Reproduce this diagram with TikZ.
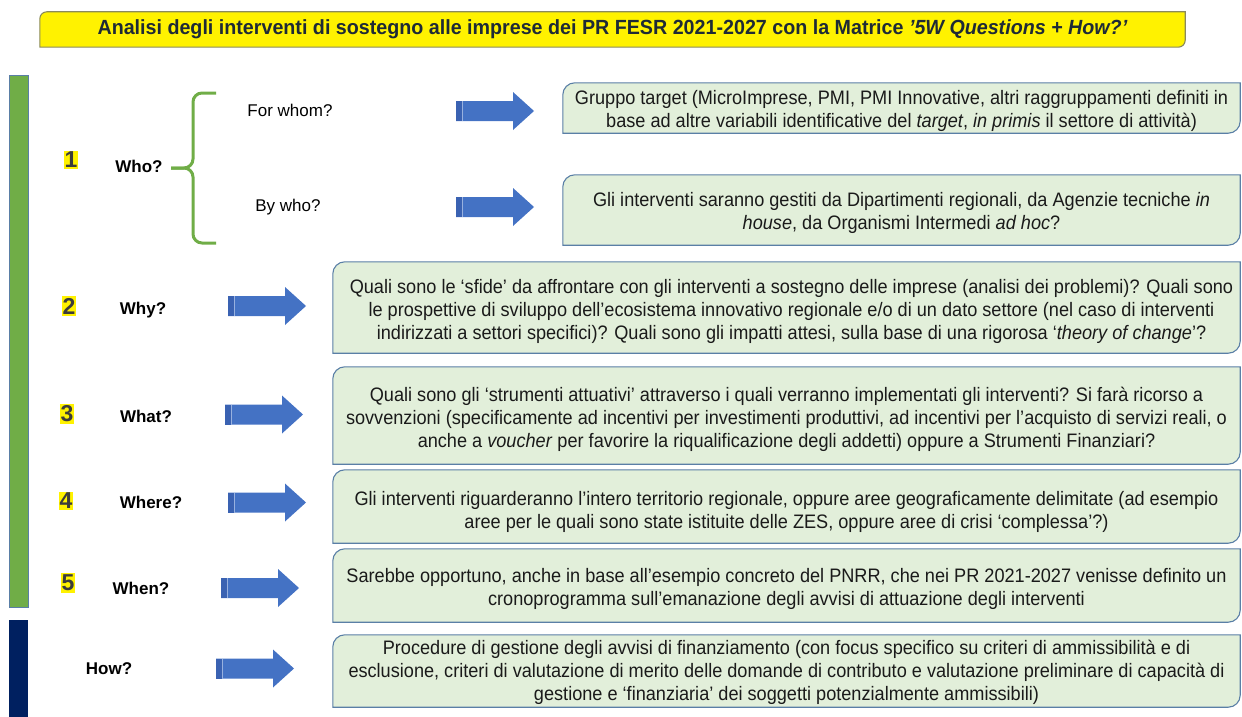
\documentclass[tikz,border=0pt]{standalone}
\usepackage{fontspec}
\setmainfont{Liberation Sans}
\newfontfamily\narrowfont[FakeStretch=0.93]{Liberation Sans}
\newfontfamily\titlefont[FakeStretch=0.96]{Liberation Sans}
\usetikzlibrary{backgrounds}
\definecolor{barGreen}{HTML}{70AD47}
\definecolor{navyBar}{HTML}{002060}
\definecolor{arrowBlue}{HTML}{4472C4}
\definecolor{arrowDark}{HTML}{3A62B2}
\definecolor{boxFill}{HTML}{E2EFDA}
\definecolor{boxLine}{HTML}{5A7FA6}
\definecolor{titleLine}{HTML}{8A8A5C}
\definecolor{titleText}{HTML}{1E2A36}
\definecolor{numText}{HTML}{3C3C3C}
\definecolor{bodyText}{HTML}{1A1A1A}
\newcommand\diagshape[3]{% node, style, radius
  \draw[#2] (#1.south west) -- ([yshift=-#3pt]#1.north west)
    arc[start angle=180,end angle=270,radius=#3] -- (#1.north east)
    -- ([yshift=#3pt]#1.south east)
    arc[start angle=0,end angle=90,radius=#3] -- cycle;}
\begin{document}
\begin{tikzpicture}[x=1pt,y=-1pt,
  area/.style={inner sep=0pt, minimum width=#1},
  txt/.style={font=\narrowfont\fontsize{19.5}{23}\selectfont, text=bodyText, align=center, inner sep=0pt},
  textbox/.style={fill=boxFill, draw=boxLine, line width=1.1pt},
  titlebox/.style={fill=yellow, draw=titleLine, line width=1.1pt},
  num/.style={fill=yellow, text=numText, font=\bfseries\fontsize{23}{23}\selectfont, inner xsep=0.5pt, inner ysep=1.5pt},
  lbl/.style={font=\bfseries\fontsize{17}{18}\selectfont, text=black, inner sep=0pt},
  sublbl/.style={font=\fontsize{17}{18}\selectfont, text=black, inner sep=0pt},
  bracestyle/.style={draw=barGreen, line width=3pt, rounded corners=9},
  blockarrow/.pic={
    \fill[arrowBlue] (0,-10) -- (57,-10) -- (57,-19) -- (78,0) -- (57,19) -- (57,10) -- (0,10) -- cycle;
    \fill[arrowDark] (0,-10) rectangle (6,10);
    \draw[arrowBlue!55!white, line width=0.6pt] (6,-10) -- (6,10);
  }]
\useasboundingbox (0,0) rectangle (1242,717);

% title
\node[font=\titlefont\bfseries\fontsize{20.5}{22}\selectfont, text=titleText, minimum width=1145, minimum height=35, inner sep=0pt]
  (title) at (612.5,29.5) {Analisi degli interventi di sostegno alle imprese dei PR FESR 2021-2027 con la Matrice \textit{’5W Questions + How?’}};

% side bars
\node[fill=barGreen, draw=boxLine, line width=0.8pt, minimum width=19, minimum height=532, inner sep=0pt] (gbar) at (18.5,341) {};
\node[fill=navyBar, minimum width=19, minimum height=100, inner sep=0pt] (nbar) at (18.5,670) {};

% numbers and labels
\node[num] (n1) at (71,160) {1};
\node[num] (n2) at (69,306) {2};
\node[num] (n3) at (67,414) {3};
\node[num] (n4) at (66,501) {4};
\node[num] (n5) at (68,583) {5};
\node[lbl] (who) at (139,166) {Who?};
\node[lbl] (why) at (143,310) {Why?};
\node[lbl] (what) at (146,416) {What?};
\node[lbl] (where) at (151,502) {Where?};
\node[lbl] (when) at (141,588) {When?};
\node[lbl] (how) at (109,669) {How?};
\node[sublbl] (forwhom) at (290,110) {For whom?};
\node[sublbl] (bywho) at (288,207) {By who?};

% brace
\coordinate (btop) at (216,93);
\coordinate (bbot) at (216,243);
\coordinate (btip) at (171,168);
\draw[bracestyle] (btop) -- (193,93) -- (193,168) -- (btip);
\draw[bracestyle] (bbot) -- (193,243) -- (193,168) -- (btip);

% block arrows
\pic (a1) at (456,111) {blockarrow};
\pic (a2) at (456,207) {blockarrow};
\pic (a3) at (228,306) {blockarrow};
\pic (a4) at (225,414.5) {blockarrow};
\pic (a5) at (228,502.5) {blockarrow};
\pic (a6) at (221,588) {blockarrow};
\pic (a7) at (216,668.5) {blockarrow};

% box areas
\node[area=677, minimum height=50] (b1) at (901.5,108) {};
\node[area=677, minimum height=70] (b2) at (901.5,210) {};
\node[area=907, minimum height=91] (b3) at (786.5,307.5) {};
\node[area=907, minimum height=97] (b4) at (786.5,415.5) {};
\node[area=907, minimum height=73] (b5) at (786.5,506.5) {};
\node[area=907, minimum height=73] (b6) at (786.5,585.5) {};
\node[area=907, minimum height=72] (b7) at (786.5,671) {};

% box texts
\node[txt] (t1) at ([yshift=-3pt]b1.center) {Gruppo target (MicroImprese, PMI, PMI Innovative, altri raggruppamenti definiti in\\ base ad altre variabili identificative del \textit{target}, \textit{in primis} il settore di attività)};
\node[txt] (t2) at ([yshift=-2.5pt]b2.center) {Gli interventi saranno gestiti da Dipartimenti regionali, da Agenzie tecniche \textit{in}\\ \textit{house}, da Organismi Intermedi \textit{ad hoc}?};
\node[txt] (t3) at ([xshift=5pt,yshift=-3.5pt]b3.center) {Quali sono le ‘sfide’ da affrontare con gli interventi a sostegno delle imprese (analisi dei problemi)? Quali sono\\ le prospettive di sviluppo dell’ecosistema innovativo regionale e/o di un dato settore (nel caso di interventi\\ indirizzati a settori specifici)? Quali sono gli impatti attesi, sulla base di una rigorosa ‘\textit{theory of change}’?};
\node[txt] (t4) at ([yshift=-3.5pt]b4.center) {Quali sono gli ‘strumenti attuativi’ attraverso i quali verranno implementati gli interventi? Si farà ricorso a\\ sovvenzioni (specificamente ad incentivi per investimenti produttivi, ad incentivi per l’acquisto di servizi reali, o\\ anche a \textit{voucher} per favorire la riqualificazione degli addetti) oppure a Strumenti Finanziari?};
\node[txt] (t5) at ([yshift=-5pt]b5.center) {Gli interventi riguarderanno l’intero territorio regionale, oppure aree geograficamente delimitate (ad esempio\\ aree per le quali sono state istituite delle ZES, oppure aree di crisi ‘complessa’?)};
\node[txt] (t6) at ([yshift=-3.5pt]b6.center) {Sarebbe opportuno, anche in base all’esempio concreto del PNRR, che nei PR 2021-2027 venisse definito un\\ cronoprogramma sull’emanazione degli avvisi di attuazione degli interventi};
\node[txt] (t7) at ([yshift=-1.5pt]b7.center) {Procedure di gestione degli avvisi di finanziamento (con focus specifico su criteri di ammissibilità e di\\ esclusione, criteri di valutazione di merito delle domande di contributo e valutazione preliminare di capacità di\\ gestione e ‘finanziaria’ dei soggetti potenzialmente ammissibili)};

\begin{scope}[on background layer]
  \diagshape{title}{titlebox}{7}
  \foreach \b in {b1,b2,b3,b4,b5,b6,b7}{\diagshape{\b}{textbox}{12}}
\end{scope}
\end{tikzpicture}
\end{document}
